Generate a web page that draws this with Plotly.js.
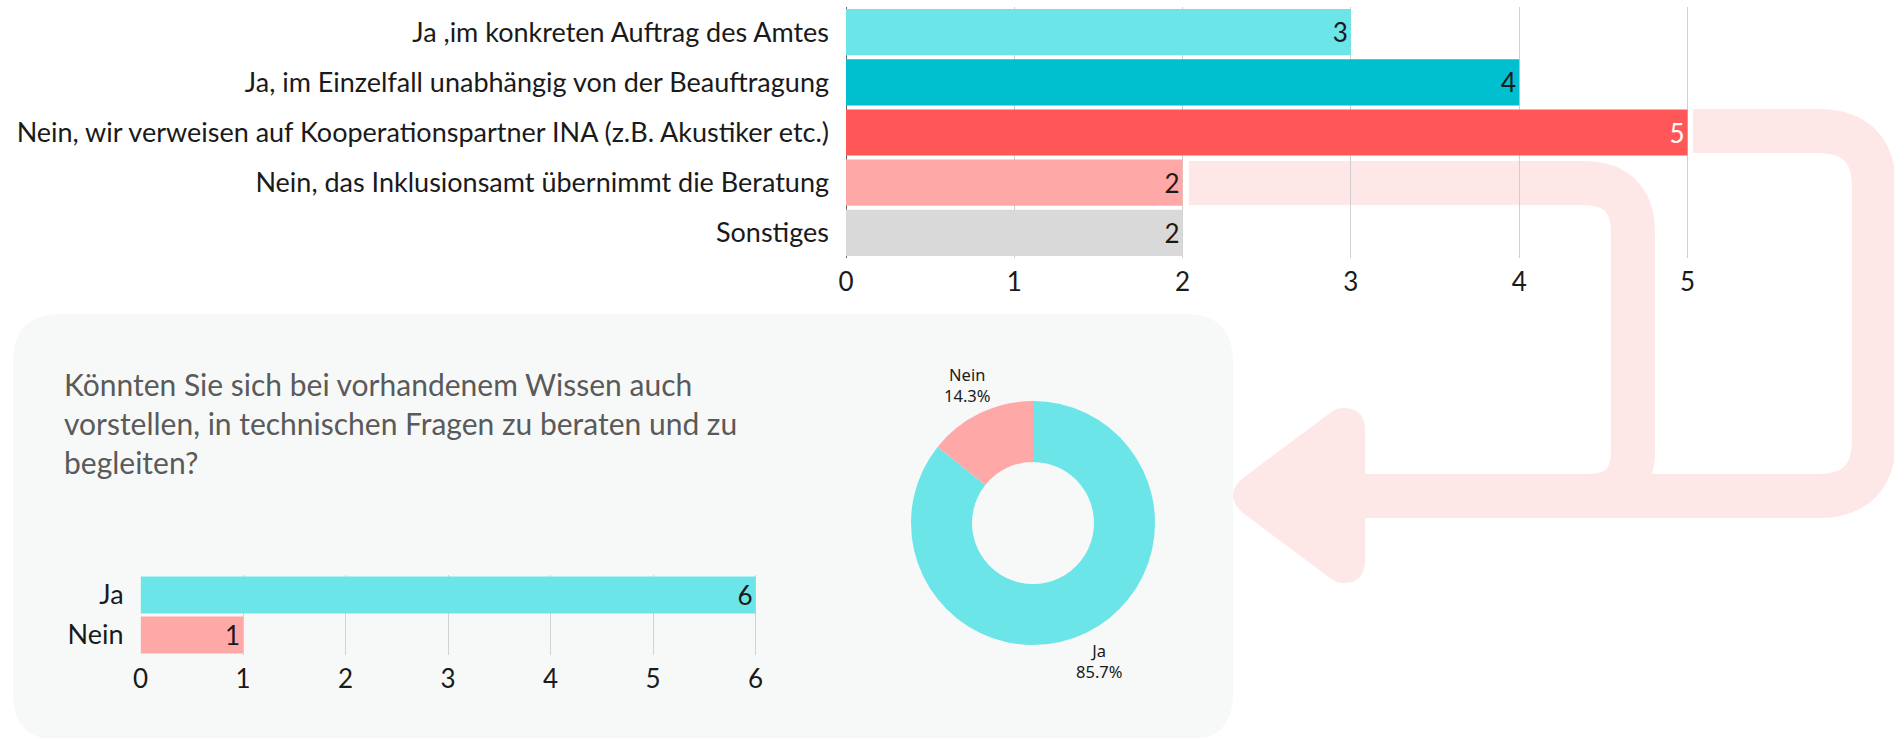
<!DOCTYPE html>
<html>
<head>
<meta charset="utf-8">
<script src="https://cdn.plot.ly/plotly-3.0.1.min.js"></script>
<style>html,body{margin:0;padding:0;background:#fff;}#chart{width:1894px;height:738px;}</style>
</head>
<body>
<div id="chart"></div>
<script>
// ---- data ----
const topCategories = [
  "Ja ,im konkreten Auftrag des Amtes",
  "Ja, im Einzelfall unabhängig von der Beauftragung",
  "Nein, wir verweisen auf Kooperationspartner INA (z.B. Akustiker etc.)",
  "Nein, das Inklusionsamt übernimmt die Beratung",
  "Sonstiges"
];
const topValues = [3, 4, 5, 2, 2];
const topColors = ["#6ce5e8", "#00bfcf", "#ff5757", "#ffa8a8", "#d9d9d9"];
const topTextColors = ["#1a1a1a", "#1a1a1a", "#ffffff", "#1a1a1a", "#1a1a1a"];

const questionText = "Könnten Sie sich bei vorhandenem Wissen auch<br>vorstellen, in technischen Fragen zu beraten und zu<br>begleiten?";
const answerCategories = ["Ja", "Nein"];
const answerValues = [6, 1];
const answerColors = ["#6ce5e8", "#ffa8a8"];

// ---- layout helpers (pixel -> paper) ----
const W = 1894, H = 738;
const px = x => x / W;
const py = y => 1 - y / H;
function conv(path) {
  return path.replace(/(-?\d+\.?\d*)\s+(-?\d+\.?\d*)/g, (m, a, b) =>
    (parseFloat(a) / W).toFixed(6) + ',' + (1 - parseFloat(b) / H).toFixed(6));
}
const FONT = "Lato, 'Open Sans', sans-serif";
const PIEFONT = "'Noto Sans', 'Open Sans', sans-serif";
const DECO = "#fde8e7";

// donut geometry
const pieCx = 1033, pieCy = 523, pieR = 122, labelR = 153;

const traces = [
  {
    type: "bar", orientation: "h",
    y: topCategories, x: topValues,
    marker: { color: topColors },
    text: topValues.map(String),
    textposition: "inside", insidetextanchor: "end", textangle: 0, constraintext: "none",
    textfont: { family: FONT, size: 26, color: topTextColors },
    hoverinfo: "none",
    xaxis: "x", yaxis: "y"
  },
  {
    type: "bar", orientation: "h",
    y: answerCategories, x: answerValues,
    marker: { color: answerColors },
    text: answerValues.map(String),
    textposition: "inside", insidetextanchor: "end", textangle: 0, constraintext: "none",
    textfont: { family: FONT, size: 26, color: "#1a1a1a" },
    hoverinfo: "none",
    xaxis: "x2", yaxis: "y2"
  },
  {
    type: "pie",
    labels: answerCategories, values: answerValues,
    marker: { colors: answerColors },
    hole: 0.5, sort: false, direction: "clockwise", rotation: 0,
    textinfo: "none",
    showlegend: false, hoverinfo: "none",
    domain: { x: [px(pieCx - pieR), px(pieCx + pieR)], y: [py(pieCy + pieR), py(pieCy - pieR)] }
  }
];

// donut labels centred on each slice's mid-angle, outside the ring
const total = answerValues.reduce((a, b) => a + b, 0);
let cum = 0;
const pieLabels = answerValues.map((v, i) => {
  const mid = (cum + v / 2) / total * 2 * Math.PI;
  cum += v;
  return {
    xref: "paper", yref: "paper",
    x: px(pieCx + labelR * Math.sin(mid)), y: py(pieCy - labelR * Math.cos(mid)),
    xanchor: "center", yanchor: "middle", align: "center", showarrow: false,
    text: answerCategories[i] + "<br>" + (v / total * 100).toFixed(1) + "%",
    font: { family: PIEFONT, size: 16.5, color: "#1a1a1a" }
  };
});

const topX0 = 846, topUnit = 168.3, topMax = 5.05;
const botX0 = 140.6, botUnit = 102.5, botMax = 6.03;

const layout = {
  width: W, height: H, autosize: false,
  margin: { l: 0, r: 0, t: 0, b: 0, pad: 0 },
  paper_bgcolor: "#ffffff", plot_bgcolor: "rgba(0,0,0,0)",
  showlegend: false,
  font: { family: FONT, color: "#1a1a1a" },
  bargap: 0.08,
  xaxis: {
    domain: [px(topX0), px(topX0 + topUnit * topMax)],
    range: [0, topMax], tickvals: [0, 1, 2, 3, 4, 5],
    showgrid: true, gridcolor: "#cfcfcf", gridwidth: 1,
    zeroline: true, zerolinecolor: "#666", zerolinewidth: 1,
    ticks: "outside", ticklen: 1, tickcolor: "rgba(0,0,0,0)",
    tickfont: { family: FONT, size: 26, color: "#1a1a1a" },
    automargin: false, fixedrange: true, anchor: "y"
  },
  yaxis: {
    domain: [py(258), py(7)],
    autorange: "reversed", type: "category",
    showgrid: false, zeroline: false, showline: false,
    ticks: "", ticklabelstandoff: 16,
    tickfont: { family: FONT, size: 27, color: "#1a1a1a" },
    automargin: false, fixedrange: true, anchor: "x"
  },
  xaxis2: {
    domain: [px(botX0), px(botX0 + botUnit * botMax)],
    range: [0, botMax], tickvals: [0, 1, 2, 3, 4, 5, 6],
    showgrid: true, gridcolor: "#d2d2d2", gridwidth: 1,
    zeroline: false,
    ticks: "outside", ticklen: 1, tickcolor: "rgba(0,0,0,0)",
    tickfont: { family: FONT, size: 26, color: "#1a1a1a" },
    automargin: false, fixedrange: true, anchor: "y2"
  },
  yaxis2: {
    domain: [py(655), py(575)],
    autorange: "reversed", type: "category",
    showgrid: false, zeroline: false, showline: false,
    ticks: "", ticklabelstandoff: 16,
    tickfont: { family: FONT, size: 27, color: "#1a1a1a" },
    automargin: false, fixedrange: true, anchor: "x2"
  },
  annotations: [
    {
      xref: "paper", yref: "paper", x: px(62), y: py(423),
      xanchor: "left", yanchor: "middle", align: "left",
      showarrow: false, text: questionText,
      font: { family: FONT, size: 30, color: "#5a5a5a" }
    }
  ].concat(pieLabels),
  shapes: [
    // panel background
    { type: "path", xref: "paper", yref: "paper", layer: "below",
      path: conv("M 61 314 L 1185 314 Q 1233 314 1233 362 L 1233 694 Q 1233 740 1187 740 L 59 740 Q 13 740 13 694 L 13 362 Q 13 314 61 314 Z"),
      fillcolor: "#f7f9f8", line: { width: 0 } },
    // pipe 2 (from "5" bar)
    { type: "path", xref: "paper", yref: "paper", layer: "below",
      path: conv("M 1693 131 L 1818 131 Q 1874 131 1874 187 L 1874 440 Q 1874 496 1818 496 L 1300 496"),
      fillcolor: "rgba(0,0,0,0)", line: { color: DECO, width: 44 } },
    // pipe 1 (from "Inklusionsamt" bar)
    { type: "path", xref: "paper", yref: "paper", layer: "below",
      path: conv("M 1189 183 L 1583 183 Q 1633 183 1633 233 L 1633 451 Q 1633 496 1588 496 L 1300 496"),
      fillcolor: "rgba(0,0,0,0)", line: { color: DECO, width: 44 } },
    // arrow head
    { type: "path", xref: "paper", yref: "paper", layer: "below",
      path: conv("M 1365 430 Q 1365 408 1343 408 Q 1336 408 1330 413 L 1243 478 Q 1233 486 1233 495 Q 1233 504 1243 513 L 1330 578 Q 1336 583 1343 583 Q 1365 583 1365 561 Z"),
      fillcolor: DECO, line: { width: 0 } }
  ]
};

Plotly.newPlot("chart", traces, layout, { displayModeBar: false, staticPlot: true });
</script>
</body>
</html>
